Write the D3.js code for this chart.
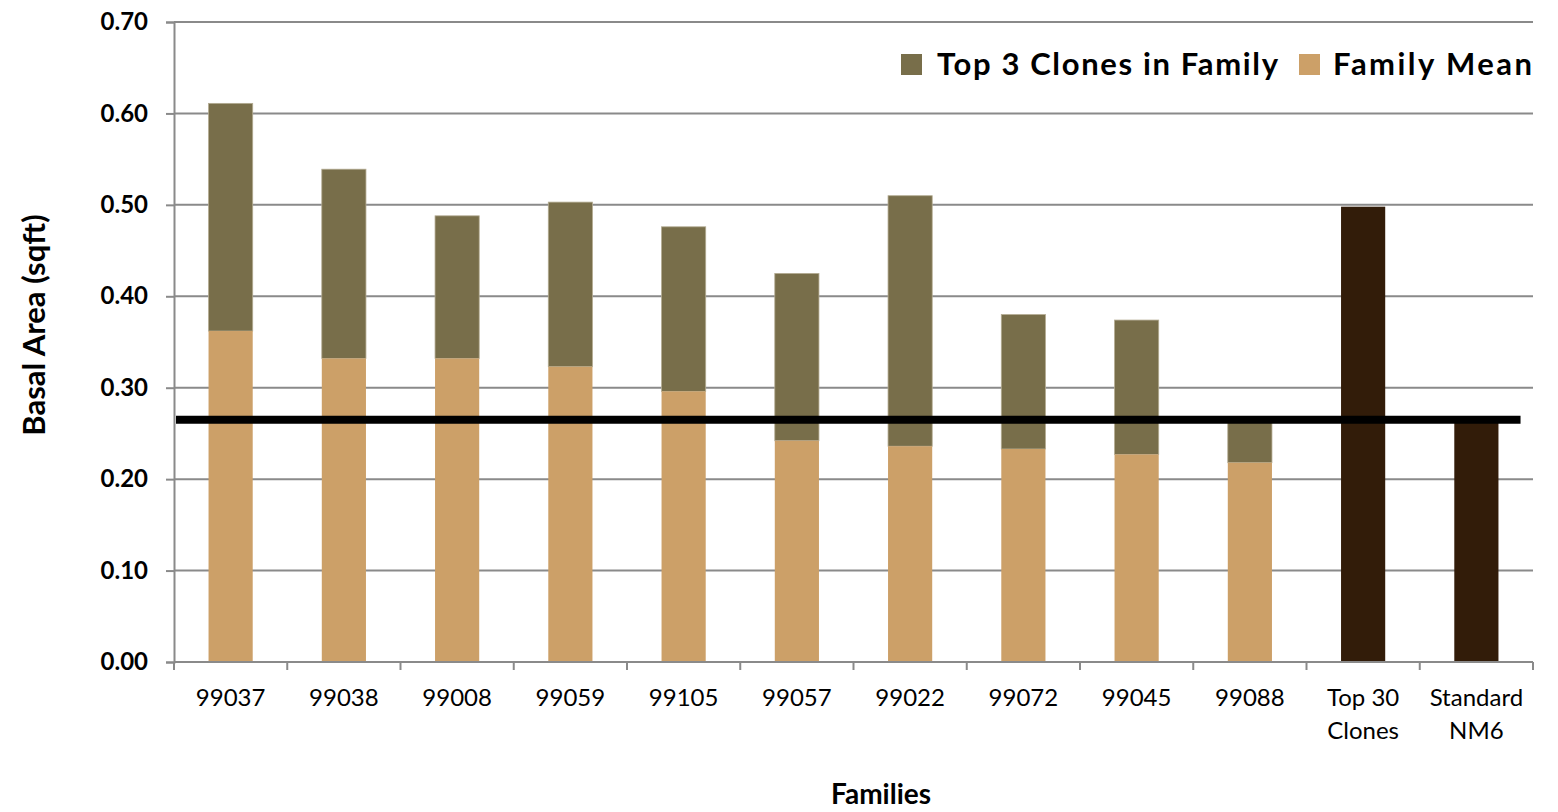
<!DOCTYPE html>
<html>
<head>
<meta charset="utf-8">
<script src="https://cdn.jsdelivr.net/npm/d3@7"></script>
<style>
  body { margin: 0; background: #fff; }
  svg { display: block; font-family: Lato, "Open Sans", sans-serif; }
</style>
</head>
<body>
<svg id="chart" width="1558" height="812"></svg>
<script>
var categories = ["99037", "99038", "99008", "99059", "99105", "99057", "99022", "99072", "99045", "99088", "Top 30 Clones", "Standard NM6"];
var familyMean = [0.362, 0.332, 0.332, 0.323, 0.296, 0.242, 0.236, 0.233, 0.227, 0.218, null, null];
var top3Clones = [0.611, 0.539, 0.488, 0.503, 0.476, 0.425, 0.510, 0.380, 0.374, 0.268, null, null];
var summaryBars = [null, null, null, null, null, null, null, null, null, null, 0.498, 0.263];
var standardLine = 0.265;
var yTicks = [0, 0.1, 0.2, 0.3, 0.4, 0.5, 0.6, 0.7];

var colOlive = "#786e4a", colTan = "#cca068", colDark = "#321c09", colGrid = "#8a8a8a";

var svg = d3.select("#chart");
var margin = {top: 22, right: 25, bottom: 150, left: 174};
var width = +svg.attr("width"), height = +svg.attr("height");
var W = width - margin.left - margin.right;
var H = height - margin.top - margin.bottom;

var g = svg.append("g").attr("transform", "translate(" + margin.left + "," + margin.top + ")");

var x = d3.scaleBand().domain(categories).range([0, W]).padding(0);
var y = d3.scaleLinear().domain([0, 0.7]).range([H, 0]);
var barW = x.bandwidth() * 0.39;
function barX(d) { return x(d) + (x.bandwidth() - barW) / 2; }

// gridlines
g.append("g").selectAll("line")
  .data(yTicks.slice(1))
  .enter().append("line")
  .attr("x1", 0).attr("x2", W)
  .attr("y1", function(d) { return y(d); })
  .attr("y2", function(d) { return y(d); })
  .attr("stroke", colGrid).attr("stroke-width", 2);

// y axis
var yAxis = g.append("g")
  .call(d3.axisLeft(y).tickValues(yTicks).tickFormat(d3.format(".2f")).tickSize(8).tickPadding(18));
yAxis.select(".domain").attr("stroke", colGrid).attr("stroke-width", 2);
yAxis.selectAll(".tick line").attr("stroke", colGrid).attr("stroke-width", 2);
yAxis.selectAll(".tick text")
  .attr("fill", "#000").style("font-size", "24px").style("font-weight", "bold")
  .style("font-family", "Lato, sans-serif");

// bars
var rows = categories.map(function(c, i) {
  return {cat: c, mean: familyMean[i], top: top3Clones[i], single: summaryBars[i]};
});

var bars = g.append("g");
bars.selectAll("rect.top")
  .data(rows.filter(function(d) { return d.top != null; }))
  .enter().append("rect")
  .attr("class", "top")
  .attr("x", function(d) { return barX(d.cat); })
  .attr("width", barW)
  .attr("y", function(d) { return y(d.top); })
  .attr("height", function(d) { return y(d.mean) - y(d.top); })
  .attr("fill", colOlive)
  .attr("stroke", "#b3ab92").attr("stroke-width", 0.8);

bars.selectAll("rect.mean")
  .data(rows.filter(function(d) { return d.mean != null; }))
  .enter().append("rect")
  .attr("class", "mean")
  .attr("x", function(d) { return barX(d.cat); })
  .attr("width", barW)
  .attr("y", function(d) { return y(d.mean); })
  .attr("height", function(d) { return H - y(d.mean); })
  .attr("fill", colTan);

bars.selectAll("rect.single")
  .data(rows.filter(function(d) { return d.single != null; }))
  .enter().append("rect")
  .attr("class", "single")
  .attr("x", function(d) { return barX(d.cat); })
  .attr("width", barW)
  .attr("y", function(d) { return y(d.single); })
  .attr("height", function(d) { return H - y(d.single); })
  .attr("fill", colDark);

// x axis: line, ticks at band edges, labels
g.append("line")
  .attr("x1", 0).attr("x2", W).attr("y1", H).attr("y2", H)
  .attr("stroke", colGrid).attr("stroke-width", 2);

var edges = categories.map(function(c) { return x(c); }).concat([W]);
g.append("g").selectAll("line")
  .data(edges)
  .enter().append("line")
  .attr("x1", function(d) { return d; }).attr("x2", function(d) { return d; })
  .attr("y1", H).attr("y2", H + 8)
  .attr("stroke", colGrid).attr("stroke-width", 2);

var xlab = g.append("g").selectAll("text")
  .data(categories)
  .enter().append("text")
  .attr("x", function(d) { return x(d) + x.bandwidth() / 2; })
  .attr("y", H + 44)
  .attr("text-anchor", "middle")
  .style("font-size", "24px")
  .attr("fill", "#000");

xlab.each(function(d) {
  var lines = /^\d+$/.test(d) ? [d] : (d.indexOf("Top") === 0 ? ["Top 30", "Clones"] : ["Standard", "NM6"]);
  var t = d3.select(this);
  lines.forEach(function(l, i) {
    t.append("tspan").attr("x", t.attr("x")).attr("dy", i === 0 ? 0 : 33).text(l);
  });
});

// standard reference line
g.append("line")
  .attr("x1", 2).attr("x2", x(categories[categories.length - 1]) + x.bandwidth() / 2 + barW)
  .attr("y1", y(standardLine)).attr("y2", y(standardLine))
  .attr("stroke", "#000").attr("stroke-width", 8);

// axis titles
svg.append("text")
  .attr("transform", "translate(45,325) rotate(-90)")
  .attr("text-anchor", "middle")
  .style("font-size", "31px").style("font-weight", "bold")
  .text("Basal Area (sqft)");

svg.append("text")
  .attr("x", 881).attr("y", 804)
  .attr("text-anchor", "middle")
  .style("font-size", "28px").style("font-weight", "bold")
  .text("Families");

// legend
var legendItems = [
  {label: "Top 3 Clones in Family", color: colOlive, x: 901, tx: 937, len: 341},
  {label: "Family Mean", color: colTan, x: 1299, tx: 1333, len: 199}
];
var leg = svg.append("g");
legendItems.forEach(function(it) {
  leg.append("rect").attr("x", it.x).attr("y", 54).attr("width", 21).attr("height", 21).attr("fill", it.color);
  leg.append("text").attr("x", it.tx).attr("y", 75)
    .attr("textLength", it.len).attr("lengthAdjust", "spacing")
    .style("font-size", "31px").style("font-weight", "bold")
    .text(it.label);
});
</script>
</body>
</html>
